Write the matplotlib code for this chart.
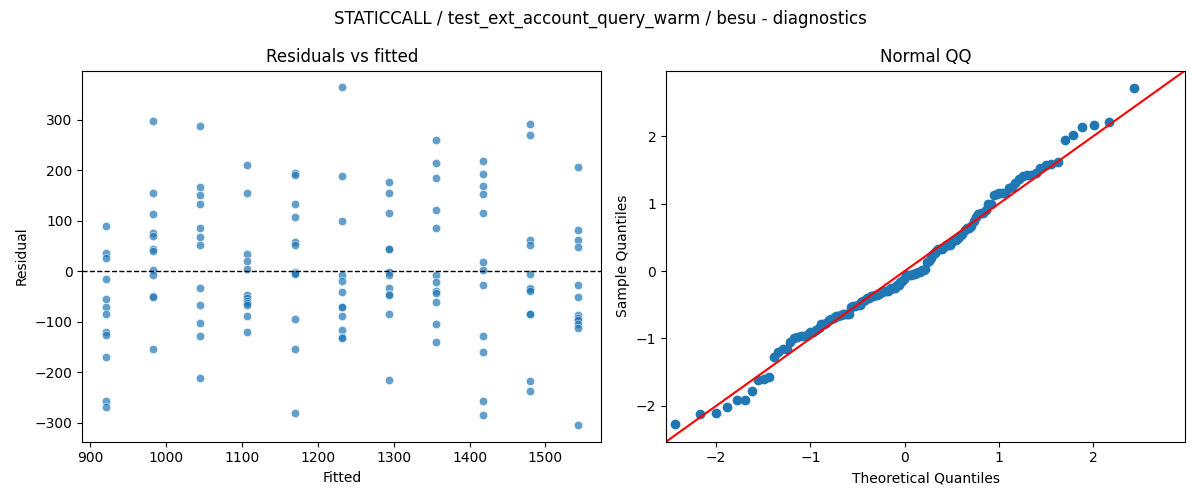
import matplotlib
matplotlib.use("Agg")
import matplotlib.pyplot as plt
import seaborn as sns
import numpy as np
from statistics import NormalDist

# fitted value for each group, residuals
fitted_levels = [920.4, 982.6, 1044.8, 1107.0, 1169.2, 1231.4,
                 1293.6, 1355.8, 1418.0, 1480.2, 1542.4]

res_920 = [89, 36, 27, -15, -54, -70, -84, -120, -127, -170, -256, -269]
res_983 = [297, 156, 113, 75, 70, 45, 40, 2, -7, -48, -50, -154]
res_1045 = [287, 166, 152, 134, 85, 67, 53, -33, -67, -103, -128, -211]
res_1107 = [211, 156, 34, 21, 5, -46, -53, -58, -62, -67, -88, -120]
res_1169 = [195, 191, 134, 107, 58, 52, -1, -3, -5, -94, -154, -281]
res_1231 = [364, 189, 99, -7, -19, -40, -70, -71, -88, -116, -131, -133]
res_1294 = [176, 156, 115, 45, 44, -2, -7, -34, -44, -47, -84, -215]
res_1356 = [260, 214, 184, 121, 85, -7, -21, -39, -42, -60, -104, -140]
res_1418 = [218, 192, 168, 154, 115, 19, 2, -27, -128, -160, -256, -284]
res_1480 = [291, 270, 62, 52, -5, -33, -36, -39, -84, -85, -217, -237]
res_1542 = [206, 82, 62, 49, -27, -50, -87, -92, -97, -104, -113, -304]

groups = [res_920, res_983, res_1045, res_1107, res_1169, res_1231,
          res_1294, res_1356, res_1418, res_1480, res_1542]

fitted = []
resid = []
for f, g in zip(fitted_levels, groups):
    fitted += [f] * len(g)
    resid += g
fitted = np.array(fitted)
resid = np.array(resid, dtype=float)

# normal QQ of standardized residuals
n = len(resid)
sample_q = np.sort((resid - resid.mean()) / resid.std())
theo_q = np.array([NormalDist().inv_cdf(i / (n + 1)) for i in range(1, n + 1)])

fig, axes = plt.subplots(1, 2, figsize=(12, 5), dpi=100)

ax = axes[0]
sns.scatterplot(x=fitted, y=resid, alpha=0.7, ax=ax)
ax.axhline(0, color="black", linestyle="--", linewidth=1)
ax.set_xlabel("Fitted")
ax.set_ylabel("Residual")
ax.set_title("Residuals vs fitted")

ax = axes[1]
ax.plot(theo_q, sample_q, "o", color="C0", markeredgecolor="C0")
lims = [-2.53, 2.97]
ax.plot(lims, lims, color="red")
ax.set_xlim(lims)
ax.set_ylim(lims)
ax.set_xlabel("Theoretical Quantiles")
ax.set_ylabel("Sample Quantiles")
ax.set_title("Normal QQ")

fig.suptitle("STATICCALL / test_ext_account_query_warm / besu - diagnostics")
fig.tight_layout()
fig.savefig("out.png")
